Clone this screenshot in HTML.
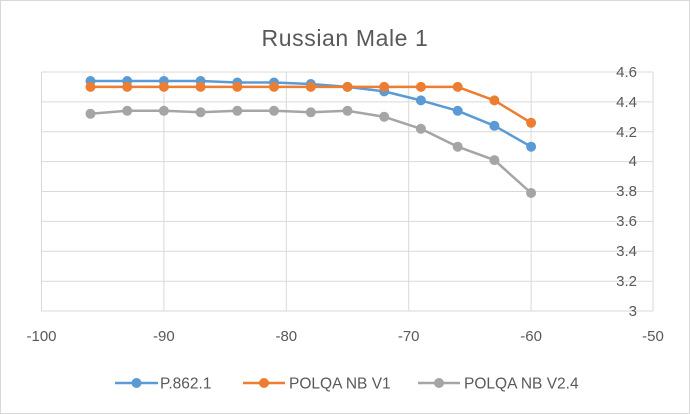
<!DOCTYPE html>
<html><head><meta charset="utf-8"><style>
body{margin:0;background:#fff}
svg{display:block;font-family:"Liberation Sans",sans-serif}
</style></head><body>
<svg width="690" height="414" viewBox="0 0 690 414">
<rect x="0.5" y="0.5" width="689" height="413" fill="#fff" stroke="#d9d9d9"/>
<text x="345" y="46" font-size="23" fill="#595959" text-anchor="middle" letter-spacing="0.6">Russian Male 1</text>
<g stroke="#d9d9d9" stroke-width="1">
<line x1="41.5" y1="72" x2="653" y2="72"/>
<line x1="41.5" y1="101.9" x2="653" y2="101.9"/>
<line x1="41.5" y1="131.8" x2="653" y2="131.8"/>
<line x1="41.5" y1="161.6" x2="653" y2="161.6"/>
<line x1="41.5" y1="191.5" x2="653" y2="191.5"/>
<line x1="41.5" y1="221.4" x2="653" y2="221.4"/>
<line x1="41.5" y1="251.3" x2="653" y2="251.3"/>
<line x1="41.5" y1="281.2" x2="653" y2="281.2"/>
<line x1="41.5" y1="311" x2="653" y2="311"/>
<line x1="41.5" y1="72" x2="41.5" y2="311"/>
<line x1="163.9" y1="72" x2="163.9" y2="311"/>
<line x1="286.3" y1="72" x2="286.3" y2="311"/>
<line x1="408.7" y1="72" x2="408.7" y2="311"/>
<line x1="531.1" y1="72" x2="531.1" y2="311"/>
<line x1="653" y1="72" x2="653" y2="311"/>
</g>
<g font-size="15" fill="#595959" text-anchor="end">
<text x="637" y="77">4.6</text>
<text x="637" y="107">4.4</text>
<text x="637" y="137">4.2</text>
<text x="637" y="166">4</text>
<text x="637" y="196">3.8</text>
<text x="637" y="226">3.6</text>
<text x="637" y="256">3.4</text>
<text x="637" y="286">3.2</text>
<text x="637" y="316">3</text>
</g>
<g font-size="15" fill="#595959" text-anchor="middle">
<text x="41.5" y="341">-100</text>
<text x="163.9" y="341">-90</text>
<text x="286.3" y="341">-80</text>
<text x="408.7" y="341">-70</text>
<text x="531.1" y="341">-60</text>
<text x="653" y="341">-50</text>
</g>
<g fill="none" stroke-width="2.5" stroke-linejoin="round">
<polyline stroke="#a5a5a5" points="90.5,113.8 127.2,110.8 163.9,110.8 200.6,112.3 237.3,110.8 274,110.8 310.8,112.3 347.5,110.8 384.2,116.8 420.9,128.8 457.7,146.7 494.4,160.1 531.1,193"/>
<polyline stroke="#5b9bd5" points="90.5,81 127.2,81 163.9,81 200.6,81 237.3,82.5 274,82.5 310.8,84 347.5,86.9 384.2,91.4 420.9,100.4 457.7,110.8 494.4,125.8 531.1,146.7"/>
<polyline stroke="#ed7d31" points="90.5,86.9 127.2,86.9 163.9,86.9 200.6,86.9 237.3,86.9 274,86.9 310.8,86.9 347.5,86.9 384.2,86.9 420.9,86.9 457.7,86.9 494.4,100.4 531.1,122.8"/>
</g>
<g fill="#a5a5a5">
<circle cx="90.5" cy="113.8" r="5"/><circle cx="127.2" cy="110.8" r="5"/><circle cx="163.9" cy="110.8" r="5"/><circle cx="200.6" cy="112.3" r="5"/><circle cx="237.3" cy="110.8" r="5"/><circle cx="274" cy="110.8" r="5"/><circle cx="310.8" cy="112.3" r="5"/><circle cx="347.5" cy="110.8" r="5"/><circle cx="384.2" cy="116.8" r="5"/><circle cx="420.9" cy="128.8" r="5"/><circle cx="457.7" cy="146.7" r="5"/><circle cx="494.4" cy="160.1" r="5"/><circle cx="531.1" cy="193" r="5"/>
</g>
<g fill="#5b9bd5">
<circle cx="90.5" cy="81" r="5"/><circle cx="127.2" cy="81" r="5"/><circle cx="163.9" cy="81" r="5"/><circle cx="200.6" cy="81" r="5"/><circle cx="237.3" cy="82.5" r="5"/><circle cx="274" cy="82.5" r="5"/><circle cx="310.8" cy="84" r="5"/><circle cx="347.5" cy="86.9" r="5"/><circle cx="384.2" cy="91.4" r="5"/><circle cx="420.9" cy="100.4" r="5"/><circle cx="457.7" cy="110.8" r="5"/><circle cx="494.4" cy="125.8" r="5"/><circle cx="531.1" cy="146.7" r="5"/>
</g>
<g fill="#ed7d31">
<circle cx="90.5" cy="86.9" r="5"/><circle cx="127.2" cy="86.9" r="5"/><circle cx="163.9" cy="86.9" r="5"/><circle cx="200.6" cy="86.9" r="5"/><circle cx="237.3" cy="86.9" r="5"/><circle cx="274" cy="86.9" r="5"/><circle cx="310.8" cy="86.9" r="5"/><circle cx="347.5" cy="86.9" r="5"/><circle cx="384.2" cy="86.9" r="5"/><circle cx="420.9" cy="86.9" r="5"/><circle cx="457.7" cy="86.9" r="5"/><circle cx="494.4" cy="100.4" r="5"/><circle cx="531.1" cy="122.8" r="5"/>
</g>
<g stroke-width="2.5">
<line x1="115" y1="383" x2="158" y2="383" stroke="#5b9bd5"/><circle cx="136.5" cy="383" r="5" fill="#5b9bd5"/>
<line x1="243" y1="383" x2="285" y2="383" stroke="#ed7d31"/><circle cx="264" cy="383" r="5" fill="#ed7d31"/>
<line x1="418" y1="383" x2="460" y2="383" stroke="#a5a5a5"/><circle cx="439" cy="383" r="5" fill="#a5a5a5"/>
</g>
<g font-size="15.5" fill="#595959">
<text x="160" y="388.5">P.862.1</text>
<text x="289" y="388.5">POLQA NB V1</text>
<text x="464" y="388.5">POLQA NB V2.4</text>
</g>
</svg>
</body></html>
